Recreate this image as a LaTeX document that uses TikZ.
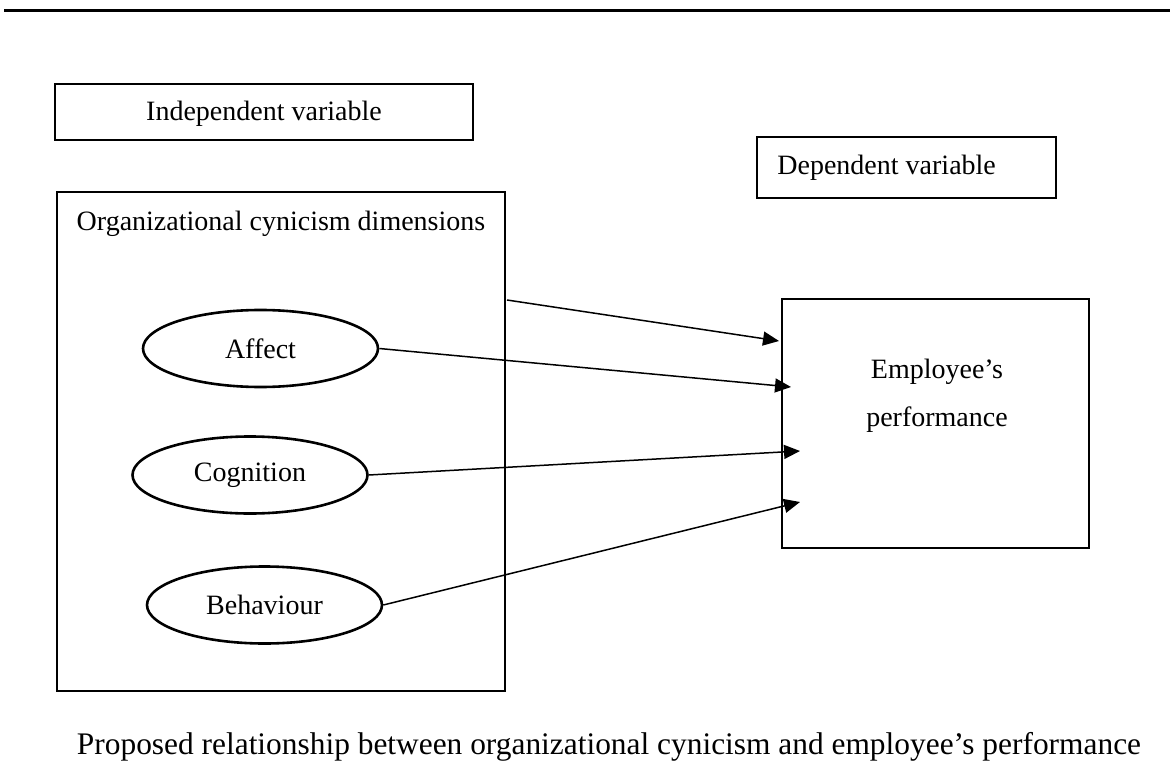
\documentclass[tikz,border=0pt]{standalone}
\usepackage{fontspec}
\setmainfont{Liberation Serif}
\usetikzlibrary{arrows.meta,shapes.geometric}
\tikzset{
  box/.style={draw, line width=1.3pt, inner sep=0pt},
  oval/.style={draw, ellipse, line width=1.3pt, inner sep=0pt, minimum width=117.5pt, minimum height=38.5pt, font=\fontsize{14}{24}\selectfont},
  lbl/.style={inner sep=0pt, font=\fontsize{14}{24}\selectfont},
  link/.style={line width=0.75pt, -{Triangle[length=8pt,width=7pt]}}
}
\begin{document}
\begin{tikzpicture}[x=0.5pt,y=-0.5pt]
\useasboundingbox (0,0) rectangle (1170,780);
% top rule
\coordinate (ruleL) at (4,10.5);
\coordinate (ruleR) at (1170,10.5);
\draw[line width=1.3pt] (ruleL) -- (ruleR);
% independent variable
\node[box, minimum width=209pt, minimum height=28pt] (indep) at (264,112) {};
\node[lbl] (indeplabel) at (264,114) {Independent variable};
% outer box
\node[box, minimum width=224pt, minimum height=249.5pt] (ocd) at (281,441.5) {};
\node[lbl] (ocdlabel) at (281,224) {Organizational cynicism dimensions};
% ellipses
\node[oval] (affect) at (260.5,348.5) {Affect};
\node[oval] (cog) at (250,475) {Cognition};
\node[oval] (beh) at (264.5,605) {Behaviour};
% dependent variable
\node[box, minimum width=149.5pt, minimum height=30.5pt] (dep) at (906.5,167.5) {};
\node[lbl, anchor=west] (deplabel) at (777,168) {Dependent variable};
% employee performance
\node[box, minimum width=153.5pt, minimum height=124.5pt] (emp) at (935.5,423.5) {};
\node[lbl, align=center] (emplabel) at (937,396) {Employee’s\\performance};
% arrow ends
\coordinate (s1) at (507,300);
\coordinate (t1) at (779,341);
\coordinate (t2) at (791,387);
\coordinate (t3) at (800,451);
\coordinate (t4) at (800,502);
\draw[link] (s1) -- (t1);
\draw[link] (affect.east) -- (t2);
\draw[link] (cog.east) -- (t3);
\draw[link] (beh.east) -- (t4);
% caption
\node[inner sep=0pt, font=\fontsize{15.7}{20}\selectfont] (caption) at (609,747) {Proposed relationship between organizational cynicism and employee’s performance};
\end{tikzpicture}
\end{document}
